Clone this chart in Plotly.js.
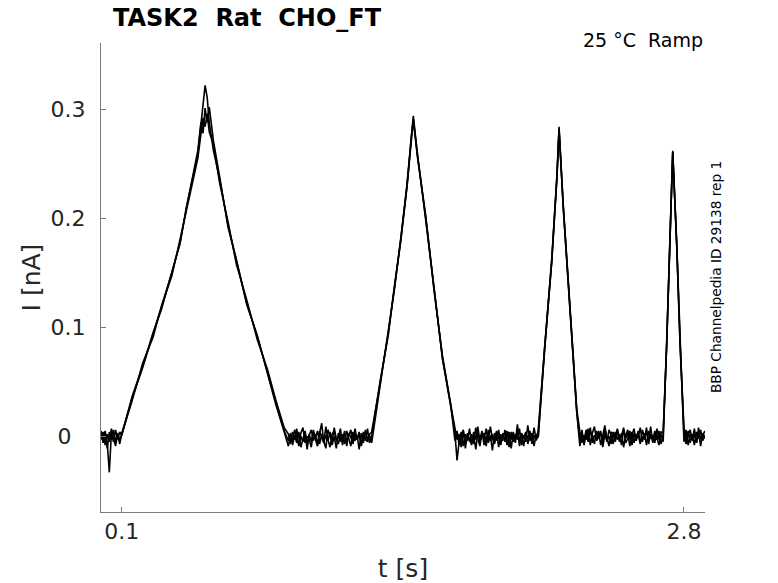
<!DOCTYPE html>
<html>
<head>
<meta charset="utf-8">
<script src="https://cdn.plot.ly/plotly-3.0.1.min.js"></script>
<style>
  html, body { margin: 0; padding: 0; background: #fff; }
  #plot { width: 778px; height: 583px; }
</style>
</head>
<body>
<div id="plot"></div>
<script>
// time points [s] (dense on the flat parts, sparse on the ramps)
var timeS = [
    0.00, 0.01, 0.02, 0.03, 0.04, 0.05, 0.06, 0.07, 0.08, 0.09, 0.10,
    0.15, 0.20, 0.25, 0.29, 0.34, 0.38, 0.41, 0.44, 0.465, 0.48, 0.49, 0.50,
    0.51, 0.52, 0.54, 0.57, 0.61, 0.65, 0.70, 0.75, 0.80, 0.84, 0.88,
    0.90, 0.91, 0.92, 0.93, 0.94, 0.95, 0.96, 0.97, 0.98, 0.99,
    1.00, 1.01, 1.02, 1.03, 1.04, 1.05, 1.06, 1.07, 1.08, 1.09,
    1.10, 1.11, 1.12, 1.13, 1.14, 1.15, 1.16, 1.17, 1.18, 1.19,
    1.20, 1.21, 1.22, 1.23, 1.24, 1.25, 1.26, 1.27, 1.28, 1.29, 1.30,
    1.34, 1.38, 1.41, 1.44, 1.47, 1.49, 1.50, 1.52, 1.56, 1.60, 1.64, 1.68,
    1.70, 1.71, 1.72, 1.73, 1.74, 1.75, 1.76, 1.77, 1.78, 1.79,
    1.80, 1.81, 1.82, 1.83, 1.84, 1.85, 1.86, 1.87, 1.88, 1.89,
    1.90, 1.91, 1.92, 1.93, 1.94, 1.95, 1.96, 1.97, 1.98, 1.99,
    2.00, 2.01, 2.02, 2.03, 2.04, 2.05, 2.06, 2.07, 2.08, 2.09, 2.10,
    2.13, 2.165, 2.19, 2.20, 2.22, 2.25, 2.285,
    2.30, 2.31, 2.32, 2.33, 2.34, 2.35, 2.36, 2.37, 2.38, 2.39,
    2.40, 2.41, 2.42, 2.43, 2.44, 2.45, 2.46, 2.47, 2.48, 2.49,
    2.50, 2.51, 2.52, 2.53, 2.54, 2.55, 2.56, 2.57, 2.58, 2.59,
    2.60, 2.61, 2.62, 2.63, 2.64, 2.65, 2.66, 2.67, 2.68, 2.69, 2.70,
    2.717, 2.733, 2.746, 2.765, 2.781,
    2.80, 2.81, 2.82, 2.83, 2.84, 2.85, 2.86, 2.87, 2.88, 2.89, 2.90
];

// current [nA], three overlaid sweeps
var sweepA = [
    0.002, -0.004, 0.005, -0.006, -0.033, 0.003, -0.005, 0.006, -0.003, 0.004, 0.001,
    0.037, 0.064, 0.095, 0.116, 0.151, 0.178, 0.209, 0.236, 0.259, 0.286, 0.305, 0.322,
    0.311, 0.288, 0.262, 0.236, 0.194, 0.161, 0.122, 0.092, 0.058, 0.030, 0.005,
    -0.004, 0.003, -0.008, 0.001, -0.006, 0.004, -0.010, -0.001, 0.005, -0.007,
    0.002, -0.005, 0.006, -0.003, -0.009, 0.003, 0.012, -0.006, 0.001, -0.004,
    0.004, -0.008, 0.000, -0.011, 0.003, -0.005, 0.002, -0.007, 0.005, -0.002,
    -0.009, 0.004, -0.004, 0.001, -0.012, 0.003, -0.006, 0.006, -0.003, 0.002, 0.004,
    0.048, 0.095, 0.137, 0.181, 0.232, 0.273, 0.294, 0.258, 0.200, 0.135, 0.072, 0.027,
    0.003, -0.022, -0.005, 0.004, -0.009, 0.002, -0.004, 0.007, -0.006, 0.001,
    -0.012, 0.003, -0.003, 0.005, -0.008, 0.000, -0.005, 0.009, -0.002, -0.007,
    0.004, -0.010, 0.002, -0.004, 0.006, -0.008, 0.001, -0.003, 0.004, -0.006,
    0.011, -0.005, 0.002, -0.009, 0.003, -0.002, 0.005, -0.007, 0.001, -0.004, 0.006,
    0.079, 0.163, 0.240, 0.284, 0.211, 0.126, 0.023,
    -0.009, 0.003, -0.004, 0.006, -0.002, 0.008, -0.006, 0.001, -0.003, 0.005,
    -0.008, 0.002, 0.010, -0.004, 0.000, -0.007, 0.004, -0.002, 0.007, -0.005,
    0.003, -0.010, 0.001, 0.006, -0.003, 0.004, -0.006, 0.002, -0.001, 0.008,
    -0.005, 0.003, -0.008, 0.005, -0.002, 0.001, -0.006, 0.007, -0.003, 0.002, -0.005,
    0.086, 0.178, 0.262, 0.178, 0.086,
    0.008, -0.003, 0.005, -0.006, 0.002, -0.008, 0.004, -0.002, 0.006, -0.004, 0.001
];

var sweepB = [
    -0.003, 0.004, -0.008, 0.002, -0.005, 0.007, -0.002, -0.009, 0.003, -0.004, 0.002,
    0.033, 0.067, 0.091, 0.119, 0.147, 0.181, 0.206, 0.233, 0.255, 0.276, 0.292, 0.284,
    0.296, 0.279, 0.268, 0.232, 0.197, 0.158, 0.125, 0.089, 0.061, 0.033, 0.008,
    0.002, -0.007, 0.004, -0.003, 0.007, -0.009, 0.000, -0.005, 0.003, -0.012,
    0.001, 0.006, -0.004, 0.002, -0.008, 0.005, -0.001, -0.006, 0.009, -0.003,
    -0.010, 0.002, 0.005, -0.004, -0.001, 0.007, -0.008, 0.003, -0.005, 0.001,
    0.006, -0.007, 0.002, -0.003, 0.004, -0.009, 0.001, -0.004, 0.007, -0.006, 0.000,
    0.050, 0.093, 0.139, 0.179, 0.230, 0.271, 0.290, 0.256, 0.202, 0.133, 0.074, 0.029,
    -0.004, 0.005, -0.008, -0.001, 0.006, -0.011, 0.003, -0.005, 0.002, -0.007,
    0.008, -0.002, -0.009, 0.004, -0.003, 0.007, -0.006, 0.001, -0.013, 0.003,
    -0.004, 0.006, -0.007, 0.000, -0.002, 0.005, -0.010, 0.004, -0.005, 0.002,
    -0.003, 0.007, -0.008, 0.001, -0.005, 0.010, -0.004, 0.003, -0.009, 0.002, -0.001,
    0.077, 0.161, 0.237, 0.281, 0.213, 0.124, 0.025,
    0.004, -0.006, 0.001, -0.003, 0.007, -0.008, 0.003, 0.009, -0.004, -0.001,
    0.005, -0.010, 0.002, -0.005, 0.006, 0.001, -0.007, 0.004, -0.003, 0.002,
    -0.008, 0.006, -0.002, 0.003, -0.009, 0.001, 0.007, -0.004, 0.005, -0.006,
    0.000, -0.003, 0.008, -0.007, 0.002, -0.004, 0.005, -0.001, -0.008, 0.004, 0.003,
    0.084, 0.176, 0.260, 0.177, 0.087,
    -0.005, 0.006, -0.008, 0.002, -0.003, 0.007, -0.006, 0.004, -0.009, 0.003, -0.002
];

var sweepC = [
    0.005, -0.006, 0.001, -0.011, 0.004, -0.003, 0.006, -0.005, 0.002, -0.007, 0.003,
    0.035, 0.063, 0.094, 0.117, 0.150, 0.177, 0.210, 0.238, 0.262, 0.288, 0.278, 0.301,
    0.288, 0.302, 0.271, 0.238, 0.192, 0.162, 0.121, 0.093, 0.057, 0.029, 0.004,
    -0.009, 0.001, -0.004, 0.006, -0.002, -0.008, 0.003, 0.008, -0.006, 0.000,
    -0.003, -0.010, 0.004, -0.001, 0.005, -0.007, 0.002, -0.004, -0.011, 0.006,
    0.001, -0.005, 0.008, -0.002, -0.007, 0.002, -0.004, 0.005, -0.009, 0.003,
    -0.001, -0.006, 0.007, -0.003, 0.002, -0.008, 0.004, -0.002, -0.005, 0.001, -0.006,
    0.047, 0.096, 0.136, 0.182, 0.229, 0.274, 0.291, 0.259, 0.199, 0.136, 0.071, 0.030,
    0.006, -0.003, 0.002, -0.010, 0.005, -0.006, 0.001, -0.002, -0.008, 0.004,
    -0.003, 0.009, -0.005, 0.000, 0.003, -0.009, 0.006, -0.004, 0.002, -0.006,
    0.005, -0.001, -0.008, 0.003, -0.005, 0.001, 0.004, -0.011, 0.002, -0.003,
    0.006, -0.009, 0.003, -0.002, 0.004, -0.007, 0.001, -0.005, 0.008, -0.003, 0.000,
    0.080, 0.160, 0.239, 0.282, 0.210, 0.127, 0.022,
    -0.003, 0.006, -0.008, 0.002, -0.005, 0.004, 0.001, -0.007, 0.005, -0.002,
    0.003, -0.006, 0.007, -0.001, -0.009, 0.004, 0.002, -0.005, 0.006, -0.003,
    0.000, 0.008, -0.006, -0.002, 0.005, -0.008, 0.003, -0.004, 0.002, -0.007,
    0.006, -0.001, 0.004, -0.005, 0.009, -0.006, 0.002, -0.003, 0.005, -0.007, 0.001,
    0.085, 0.177, 0.261, 0.176, 0.085,
    0.003, -0.007, 0.001, 0.006, -0.004, 0.002, -0.006, 0.008, -0.003, 0.000, 0.005
];

var xTickVals = [0.1, 2.8];
var xTickText = ['0.1', '2.8'];
var yTickVals = [0, 0.1, 0.2, 0.3];
// the "0" label sits further left of the axis than the others in the original
var yTickText = ['0\u00a0\u00a0', '0.1', '0.2', '0.3'];

var sweeps = [sweepA, sweepB, sweepC];
var traces = [];

for (let i = 0;i < sweeps.length;i++) {
    if (sweeps[i].length != timeS.length) {
        throw new Error('sweep ' + i + ' has ' + sweeps[i].length + ' points, time has ' + timeS.length);
    }
    traces.push({
        x: timeS,
        y: sweeps[i],
        type: 'scatter',
        mode: 'lines',
        line: { color: 'black', width: 1.6 },
        hoverinfo: 'skip',
        showlegend: false
    });
}

var font = 'DejaVu Sans, sans-serif';
var axisColor = '#7a7a7a';
var textColor = '#262626';

var layout = {
    width: 778,
    height: 583,
    margin: { l: 101, r: 73, t: 43, b: 71, pad: 0 },
    paper_bgcolor: 'white',
    plot_bgcolor: 'white',
    showlegend: false,
    hovermode: false,
    font: { family: font, color: textColor },
    title: {
        text: '<b>TASK2  Rat  CHO_FT</b>',
        font: { family: font, size: 24, color: 'black' },
        xref: 'container',
        yref: 'container',
        x: 113 / 778,
        xanchor: 'left',
        y: 1 - 18 / 583,
        yanchor: 'middle'
    },
    xaxis: {
        range: [0, 2.901],
        tickmode: 'array',
        tickvals: xTickVals,
        ticktext: xTickText,
        ticks: 'inside',
        ticklen: 5,
        tickcolor: axisColor,
        tickfont: { family: font, size: 22, color: textColor },
        showline: true,
        linecolor: axisColor,
        linewidth: 1,
        showgrid: false,
        zeroline: false,
        automargin: false,
        title: {
            text: 't [s]',
            font: { family: font, size: 25, color: textColor },
            standoff: 18
        }
    },
    yaxis: {
        range: [-0.0694, 0.3608],
        tickmode: 'array',
        tickvals: yTickVals,
        ticktext: yTickText,
        ticks: 'inside',
        ticklen: 5,
        tickcolor: axisColor,
        tickfont: { family: font, size: 22, color: textColor },
        ticklabelstandoff: 10,
        showline: true,
        linecolor: axisColor,
        linewidth: 1,
        showgrid: false,
        zeroline: false,
        automargin: false,
        title: {
            text: 'I [nA]',
            font: { family: font, size: 25, color: textColor },
            standoff: 2
        }
    },
    annotations: [
        {
            text: '25 °C  Ramp',
            xref: 'paper',
            yref: 'paper',
            x: 1,
            xanchor: 'right',
            xshift: 0,
            y: 1.006,
            yanchor: 'middle',
            showarrow: false,
            font: { family: font, size: 19, color: 'black' }
        },
        {
            text: 'BBP Channelpedia ID 29138 rep 1',
            xref: 'paper',
            yref: 'paper',
            x: (716 - 101) / 604,
            xanchor: 'center',
            y: 0.501,
            yanchor: 'middle',
            textangle: -90,
            showarrow: false,
            font: { family: font, size: 13.7, color: 'black' }
        }
    ]
};

Plotly.newPlot('plot', traces, layout, { staticPlot: true, displayModeBar: false });
</script>
</body>
</html>
